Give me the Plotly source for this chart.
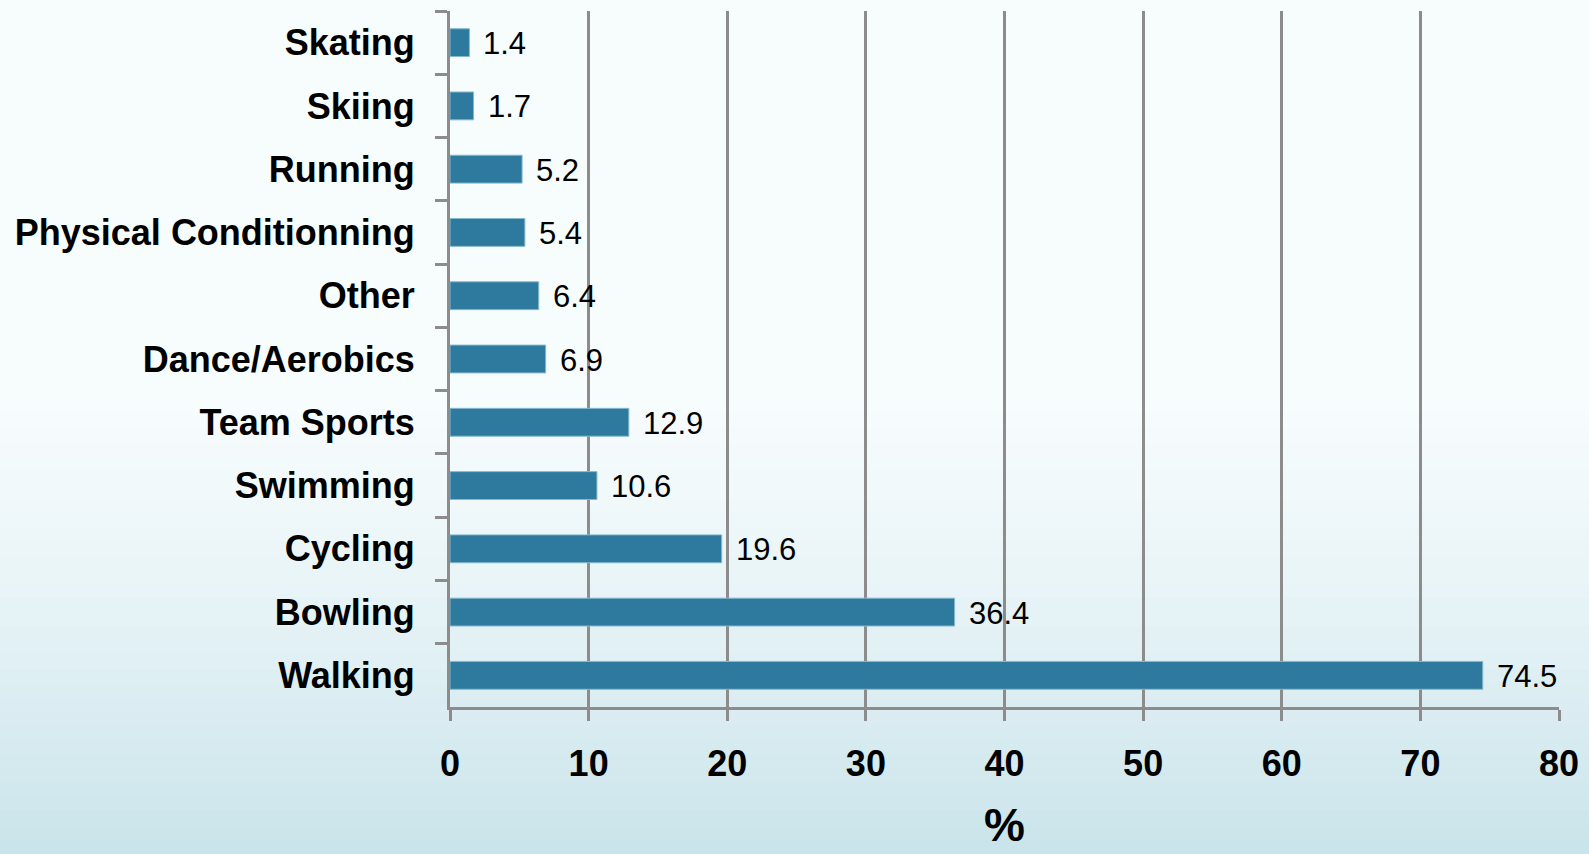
import plotly.graph_objects as go

# Participation by activity (%)
categories = ["Skating", "Skiing", "Running", "Physical Conditionning", "Other",
              "Dance/Aerobics", "Team Sports", "Swimming", "Cycling", "Bowling", "Walking"]
values = [1.4, 1.7, 5.2, 5.4, 6.4, 6.9, 12.9, 10.6, 19.6, 36.4, 74.5]
x_ticks = [0, 10, 20, 30, 40, 50, 60, 70, 80]

W, H = 1589, 854
L, R, T, B = 450, 30, 11, 147
plot_h = H - T - B

BAR = "#2d7a9e"
GRID = "#8c8c8c"
FONT = "Liberation Sans, Arial, sans-serif"
INK = "#000000"

fig = go.Figure()
fig.add_trace(go.Bar(
    x=values, y=categories, orientation="h",
    marker=dict(color=BAR, line=dict(color="#86b9cd", width=1)),
    hoverinfo="x+y",
))

# value labels next to each bar
for c, v in zip(categories, values):
    fig.add_annotation(x=v, y=c, text=f"{v}", showarrow=False,
                       xanchor="left", yanchor="middle", xshift=12, yshift=-1,
                       font=dict(family=FONT, size=31, color=INK))

# x-axis unit label, sitting at the very bottom of the page
fig.add_annotation(x=0.5, xref="paper", y=(H - B - 853) / plot_h, yref="paper",
                   text="%", showarrow=False, xanchor="center", yanchor="bottom",
                   font=dict(family=FONT, size=46, weight="bold", color=INK))

# soft vertical background gradient (white to pale blue)
def lerp(a, b, t):
    return tuple(round(a[i] + (b[i] - a[i]) * t) for i in range(3))

top_col = (247, 252, 253)
bot_col = (200, 227, 234)
n = 60
start = 0.45  # fraction of page height where the tint begins
shapes = []
for i in range(n):
    f0 = i / n
    f1 = (i + 1) / n
    t = max(0.0, (f0 - start) / (1 - start)) ** 1.3
    col = lerp(top_col, bot_col, t)
    py0 = H * f0
    py1 = H * f1 + 1
    # convert page pixels to paper coordinates
    y_top = (H - B - py0) / plot_h
    y_bot = (H - B - py1) / plot_h
    shapes.append(dict(type="rect", xref="paper", yref="paper",
                       x0=-L / (W - L - R) - 0.01, x1=1 + R / (W - L - R) + 0.01,
                       y0=y_bot, y1=y_top, line=dict(width=0),
                       fillcolor=f"rgb{col}", layer="below"))

fig.update_layout(
    width=W, height=H,
    margin=dict(l=L, r=R, t=T, b=B, pad=0, autoexpand=False),
    paper_bgcolor="rgb(200,227,234)",
    plot_bgcolor="rgba(0,0,0,0)",
    shapes=shapes,
    showlegend=False,
    bargap=0.56,
    font=dict(family=FONT, color=INK),
    xaxis=dict(
        range=[0, 80], tickvals=x_ticks, ticktext=[str(v) for v in x_ticks],
        showgrid=True, gridcolor=GRID, gridwidth=3,
        showline=True, linecolor=GRID, linewidth=3,
        ticks="outside", ticklen=11, tickwidth=3, tickcolor=GRID,
        zeroline=False, ticklabelstandoff=12, automargin=False,
        tickfont=dict(family=FONT, size=36, weight="bold", color=INK),
    ),
    yaxis=dict(
        autorange="reversed",
        showgrid=False,
        showline=True, linecolor=GRID, linewidth=3,
        ticks="outside", ticklen=12, tickwidth=3, tickcolor=GRID,
        tickson="boundaries", ticklabelstandoff=25, automargin=False,
        tickfont=dict(family=FONT, size=36, weight="bold", color=INK),
    ),
)

fig.write_html("out.html")
